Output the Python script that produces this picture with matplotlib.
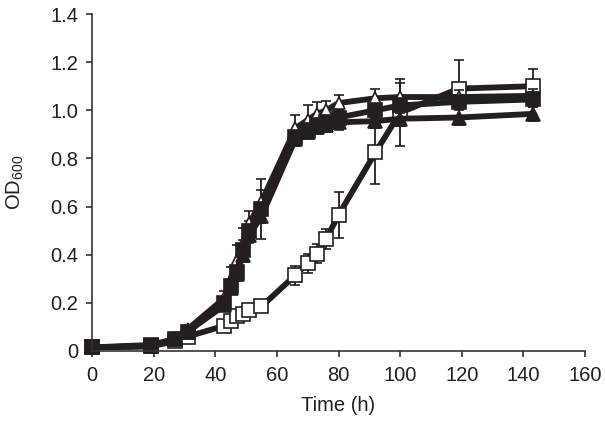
import numpy as np
import matplotlib.pyplot as plt

plt.rcParams['font.family'] = ['Liberation Sans', 'DejaVu Sans']
plt.rcParams['mathtext.default'] = 'regular'

# 采样时间 (h)
time_h = [0, 19, 27, 31, 43, 45, 47, 49, 51, 55, 66, 70, 73, 76, 80, 92, 100, 119, 143]

# 各菌株 OD600 均值与标准差
open_sq = [0.015, 0.02, 0.04, 0.06, 0.105, 0.125, 0.145, 0.155, 0.17, 0.185,
           0.315, 0.365, 0.405, 0.465, 0.565, 0.825, 0.99, 1.09, 1.10]
open_sq_err = [0.005, 0.005, 0.01, 0.01, 0.01, 0.01, 0.01, 0.01, 0.01, 0.01,
               0.04, 0.04, 0.04, 0.04, 0.095, 0.13, 0.14, 0.12, 0.07]

open_tri = [0.015, 0.02, 0.05, 0.09, 0.22, 0.30, 0.38, 0.45, 0.53, 0.62,
            0.925, 0.96, 0.985, 1.0, 1.03, 1.05, 1.055, 1.055, 1.06]
open_tri_err = [0.005, 0.005, 0.01, 0.01, 0.03, 0.05, 0.06, 0.06, 0.05, 0.05,
                0.055, 0.06, 0.05, 0.04, 0.035, 0.04, 0.06, 0.03, 0.03]

fill_sq = [0.015, 0.025, 0.05, 0.08, 0.2, 0.27, 0.33, 0.42, 0.5, 0.59,
           0.89, 0.92, 0.94, 0.95, 0.97, 1.0, 1.02, 1.035, 1.045]
fill_sq_err = [0.005, 0.005, 0.01, 0.01, 0.02, 0.03, 0.03, 0.04, 0.04, 0.125,
               0.03, 0.03, 0.03, 0.03, 0.03, 0.03, 0.03, 0.03, 0.03]

fill_tri = [0.015, 0.02, 0.05, 0.08, 0.19, 0.26, 0.32, 0.40, 0.48, 0.56,
            0.88, 0.91, 0.93, 0.94, 0.95, 0.955, 0.965, 0.97, 0.985]
fill_tri_err = [0.005, 0.005, 0.01, 0.01, 0.02, 0.02, 0.03, 0.03, 0.03, 0.03,
                0.03, 0.03, 0.03, 0.03, 0.03, 0.03, 0.03, 0.03, 0.03]

ink = '#231f20'
fig = plt.figure(figsize=(6.05, 4.22), dpi=100)
ax = fig.add_axes([92 / 605, 71 / 422, 493 / 605, 337 / 422])

# 空心三角先画，实心的盖在上面
series = [
    (open_tri, open_tri_err, '^', 'white', 9),
    (fill_sq, fill_sq_err, 's', ink, 10),
    (fill_tri, fill_tri_err, '^', ink, 10.5),
]
for y, err, mk, face, ms in series:
    ax.errorbar(time_h, y, yerr=err, color=ink, lw=4.2, marker=mk, ms=ms,
                mfc=face, mec=ink, mew=1.2, ecolor=ink, elinewidth=1.3,
                capsize=3.5, capthick=1.3, clip_on=False)

# 空心方块：早期被实心盖住，后期在最上层
ax.errorbar(time_h, open_sq, yerr=open_sq_err, color=ink, lw=4.2, marker='s',
            ms=10, mfc='white', mec=ink, mew=1.2, ecolor=ink, elinewidth=1.3,
            capsize=3.5, capthick=1.3, clip_on=False, zorder=1)

ax.set_xlim(0, 160)
ax.set_ylim(0, 1.4)
ax.set_xticks(np.arange(0, 161, 20))
ax.set_yticks([0, 0.2, 0.4, 0.6, 0.8, 1.0, 1.2, 1.4])
ax.set_yticklabels(['0', '0.2', '0.4', '0.6', '0.8', '1.0', '1.2', '1.4'])
ax.spines['top'].set_visible(False)
ax.spines['right'].set_visible(False)
for s in ['left', 'bottom']:
    ax.spines[s].set_color('#333333')
    ax.spines[s].set_linewidth(1.2)
ax.tick_params(direction='out', length=4.5, width=1.2, color='#333333',
               labelsize=14.5, labelcolor=ink)
ax.tick_params(axis='x', pad=6.5)
ax.tick_params(axis='y', pad=5.5)
ax.set_xlabel('Time (h)', fontsize=14.5, color=ink, labelpad=8)
ax.set_ylabel('OD$_{600}$', fontsize=14.5, color=ink, labelpad=17)

plt.savefig('out.png', dpi=100)
